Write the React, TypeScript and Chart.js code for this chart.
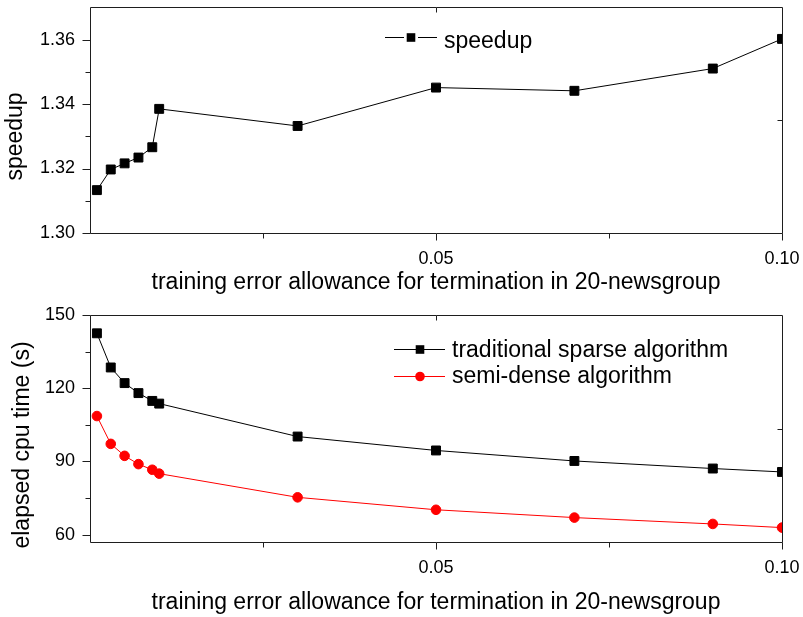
import React, { useEffect, useRef } from 'react';
import { Chart, registerables } from 'chart.js';

Chart.register(...registerables);

// ---------------- data ----------------
const errorAllowance = [0.001, 0.003, 0.005, 0.007, 0.009, 0.01, 0.03, 0.05, 0.07, 0.09, 0.1];
const speedup = [1.3133, 1.3197, 1.3216, 1.3234, 1.3266, 1.3385, 1.3332, 1.3451, 1.3441, 1.351, 1.3602];
const sparseTime = [142.5, 128.5, 122.1, 118.0, 114.8, 113.7, 100.2, 94.5, 90.2, 87.1, 85.7];
const semiDenseTime = [108.6, 97.2, 92.3, 88.9, 86.6, 85.0, 75.3, 70.2, 67.0, 64.4, 62.9];

const xTickLabels = [0.05, 0.1];
const xMinorTicks = [0.025, 0.075];
const xTopTicks = [0.05];
const speedupTickLabels = [1.3, 1.32, 1.34, 1.36];
const speedupMinorTicks = [1.31, 1.33, 1.35];
const timeTickLabels = [60, 90, 120, 150];
const timeMinorTicks = [75, 105, 135];

const xTitle = 'training error allowance for termination in 20-newsgroup';
const speedupTitle = 'speedup';
const timeTitle = 'elapsed cpu time (s)';

const FONT = '"Liberation Sans", Arial, Helvetica, sans-serif';

type LegendCfg = {
  lineStart: number;
  lineEnd: number;
  markerX: number;
  gap: number;
  textX: number;
  rows: { symY: number; baseY: number }[];
};

type FrameCfg = {
  id: string;
  xMajor: number[];
  xMinor: number[];
  xTop: number[];
  yMajor: number[];
  yMinor: number[];
  yTitle: string;
  yTitleX: number;
  yTitleY: number;
  legend: LegendCfg;
};

function drawMarker(ctx: CanvasRenderingContext2D, style: string, x: number, y: number, r: number, color: string) {
  ctx.fillStyle = color;
  ctx.beginPath();
  if (style === 'rect') {
    ctx.rect(x - r, y - r, 2 * r, 2 * r);
  } else {
    ctx.arc(x, y, r, 0, Math.PI * 2);
  }
  ctx.fill();
}

function makeFramePlugin(cfg: FrameCfg) {
  return {
    id: cfg.id,
    afterDraw(chart: any) {
      const ctx: CanvasRenderingContext2D = chart.ctx;
      const { left, right, top, bottom } = chart.chartArea;
      const xs = chart.scales.x;
      const ys = chart.scales.y;
      const L = Math.round(left) + 0.5;
      const R = Math.round(right) + 0.5;
      const T = Math.round(top) + 0.5;
      const B = Math.round(bottom) + 0.5;
      ctx.save();
      ctx.strokeStyle = '#1e1e1e';
      ctx.lineWidth = 1;
      ctx.beginPath();
      ctx.moveTo(L, T);
      ctx.lineTo(R, T);
      ctx.lineTo(R, B);
      ctx.lineTo(L, B);
      ctx.closePath();
      // x ticks (outward, bottom)
      cfg.xMajor.forEach((v) => {
        const px = Math.round(xs.getPixelForValue(v)) + 0.5;
        ctx.moveTo(px, B);
        ctx.lineTo(px, B + 7);
      });
      cfg.xMinor.forEach((v) => {
        const px = Math.round(xs.getPixelForValue(v)) + 0.5;
        ctx.moveTo(px, B);
        ctx.lineTo(px, B + 5);
      });
      // top inward ticks
      cfg.xTop.forEach((v) => {
        const px = Math.round(xs.getPixelForValue(v)) + 0.5;
        ctx.moveTo(px, T);
        ctx.lineTo(px, T + 5);
      });
      // y ticks (outward, left)
      cfg.yMajor.forEach((v) => {
        const py = Math.round(ys.getPixelForValue(v)) + 0.5;
        ctx.moveTo(L, py);
        ctx.lineTo(L - 8, py);
      });
      cfg.yMinor.forEach((v) => {
        const py = Math.round(ys.getPixelForValue(v)) + 0.5;
        ctx.moveTo(L, py);
        ctx.lineTo(L - 5, py);
      });
      // right inward mid tick
      const mid = Math.round((top + bottom) / 2) + 0.5;
      ctx.moveTo(R, mid);
      ctx.lineTo(R - 5, mid);
      ctx.stroke();

      // y title
      ctx.save();
      ctx.translate(cfg.yTitleX, cfg.yTitleY);
      ctx.rotate(-Math.PI / 2);
      ctx.fillStyle = '#000';
      ctx.font = `23px ${FONT}`;
      ctx.textAlign = 'center';
      ctx.textBaseline = 'alphabetic';
      ctx.fillText(cfg.yTitle, 0, 0);
      ctx.restore();

      // legend
      const lg = cfg.legend;
      chart.data.datasets.forEach((ds: any, i: number) => {
        const row = lg.rows[i];
        if (!row) return;
        const color = ds.borderColor;
        ctx.strokeStyle = color;
        ctx.lineWidth = 1;
        ctx.beginPath();
        const y = Math.round(row.symY) + 0.5;
        if (lg.gap > 0) {
          ctx.moveTo(lg.lineStart, y);
          ctx.lineTo(lg.markerX - lg.gap, y);
          ctx.moveTo(lg.markerX + lg.gap, y);
          ctx.lineTo(lg.lineEnd, y);
        } else {
          ctx.moveTo(lg.lineStart, y);
          ctx.lineTo(lg.lineEnd, y);
        }
        ctx.stroke();
        const style = ds.pointStyle;
        drawMarker(ctx, style, lg.markerX, y, style === 'rect' ? 4.3 : 4.8, ds.pointBackgroundColor);
        ctx.fillStyle = '#000';
        ctx.font = `23px ${FONT}`;
        ctx.textAlign = 'left';
        ctx.textBaseline = 'alphabetic';
        ctx.fillText(ds.label, lg.textX, row.baseY);
      });
      ctx.restore();
    },
  };
}

function buildConfig(
  datasets: any[],
  yMin: number,
  yMax: number,
  yLabels: number[],
  yFmt: (v: number) => string,
  padTop: number,
  xAxisHeight: number,
  xTitlePadBottom: number,
  plugin: any
) {
  return {
    type: 'line' as const,
    data: { datasets },
    options: {
      responsive: false,
      maintainAspectRatio: false,
      animation: false as const,
      devicePixelRatio: 1,
      events: [],
      layout: { padding: { top: padTop, right: 21, left: 0, bottom: 0 } },
      plugins: { legend: { display: false }, tooltip: { enabled: false } },
      scales: {
        x: {
          type: 'linear' as const,
          min: 0,
          max: 0.1,
          grid: { display: false, drawTicks: false, tickLength: 0 },
          border: { display: false },
          afterBuildTicks: (s: any) => {
            s.ticks = xTickLabels.map((v) => ({ value: v }));
          },
          afterFit: (s: any) => {
            s.height = xAxisHeight;
            s.paddingLeft = 0;
            s.paddingRight = 0;
          },
          ticks: {
            padding: 15,
            maxRotation: 0,
            autoSkip: false,
            color: '#000',
            font: { family: FONT, size: 18 },
            callback: (v: any) => Number(v).toFixed(2),
          },
          title: {
            display: true,
            text: xTitle,
            color: '#000',
            font: { family: FONT, size: 23 },
            padding: { top: 0, bottom: xTitlePadBottom },
          },
        },
        y: {
          type: 'linear' as const,
          min: yMin,
          max: yMax,
          grid: { display: false, drawTicks: false, tickLength: 0 },
          border: { display: false },
          afterBuildTicks: (s: any) => {
            s.ticks = yLabels.map((v) => ({ value: v }));
          },
          afterFit: (s: any) => {
            s.width = 90;
            s.paddingTop = 0;
            s.paddingBottom = 0;
          },
          ticks: {
            padding: 15,
            autoSkip: false,
            color: '#000',
            font: { family: FONT, size: 18 },
            callback: (v: any) => yFmt(Number(v)),
          },
        },
      },
    },
    plugins: [plugin],
  };
}

function App() {
  const topRef = useRef<HTMLCanvasElement | null>(null);
  const botRef = useRef<HTMLCanvasElement | null>(null);

  useEffect(() => {
    const topPlugin = makeFramePlugin({
      id: 'frameTop',
      xMajor: xTickLabels,
      xMinor: xMinorTicks,
      xTop: xTopTicks,
      yMajor: speedupTickLabels,
      yMinor: speedupMinorTicks,
      yTitle: speedupTitle,
      yTitleX: 22,
      yTitleY: 136.5,
      legend: {
        lineStart: 385,
        lineEnd: 437,
        markerX: 411,
        gap: 7,
        textX: 444,
        rows: [{ symY: 37, baseY: 48 }],
      },
    });
    const botPlugin = makeFramePlugin({
      id: 'frameBottom',
      xMajor: xTickLabels,
      xMinor: xMinorTicks,
      xTop: xTopTicks,
      yMajor: timeTickLabels,
      yMinor: timeMinorTicks,
      yTitle: timeTitle,
      yTitleX: 29,
      yTitleY: 145,
      legend: {
        lineStart: 394,
        lineEnd: 445,
        markerX: 420,
        gap: 0,
        textX: 452,
        rows: [
          { symY: 49, baseY: 57 },
          { symY: 75.5, baseY: 83 },
        ],
      },
    });

    const topChart = new Chart(
      topRef.current as HTMLCanvasElement,
      buildConfig(
        [
          {
            label: 'speedup',
            data: errorAllowance.map((x, i) => ({ x, y: speedup[i] })),
            borderColor: '#000000',
            borderWidth: 1,
            pointStyle: 'rect',
            pointRadius: 6.3,
            pointBackgroundColor: '#000000',
            pointBorderColor: '#000000',
            pointBorderWidth: 1,
            tension: 0,
          },
        ],
        1.3,
        1.37,
        speedupTickLabels,
        (v) => v.toFixed(2),
        6,
        67,
        4,
        topPlugin
      ) as any
    );

    const botChart = new Chart(
      botRef.current as HTMLCanvasElement,
      buildConfig(
        [
          {
            label: 'traditional sparse algorithm',
            data: errorAllowance.map((x, i) => ({ x, y: sparseTime[i] })),
            borderColor: '#000000',
            borderWidth: 1,
            pointStyle: 'rect',
            pointRadius: 6.3,
            pointBackgroundColor: '#000000',
            pointBorderColor: '#000000',
            pointBorderWidth: 1,
            tension: 0,
          },
          {
            label: 'semi-dense algorithm',
            data: errorAllowance.map((x, i) => ({ x, y: semiDenseTime[i] })),
            borderColor: '#ff0000',
            borderWidth: 1,
            pointStyle: 'circle',
            pointRadius: 4.8,
            pointBackgroundColor: '#ff0000',
            pointBorderColor: '#ff0000',
            pointBorderWidth: 1,
            tension: 0,
          },
        ],
        57,
        150,
        timeTickLabels,
        (v) => String(Math.round(v)),
        15,
        75,
        1,
        botPlugin
      ) as any
    );

    return () => {
      topChart.destroy();
      botChart.destroy();
    };
  }, []);

  return (
    <div
      style={{
        position: 'absolute',
        left: 0,
        top: 0,
        width: 803,
        height: 617,
        background: '#ffffff',
        overflow: 'hidden',
      }}
    >
      <canvas ref={topRef} width={803} height={300} style={{ display: 'block', width: 803, height: 300 }} />
      <canvas ref={botRef} width={803} height={317} style={{ display: 'block', width: 803, height: 317 }} />
    </div>
  );
}

export default App;
